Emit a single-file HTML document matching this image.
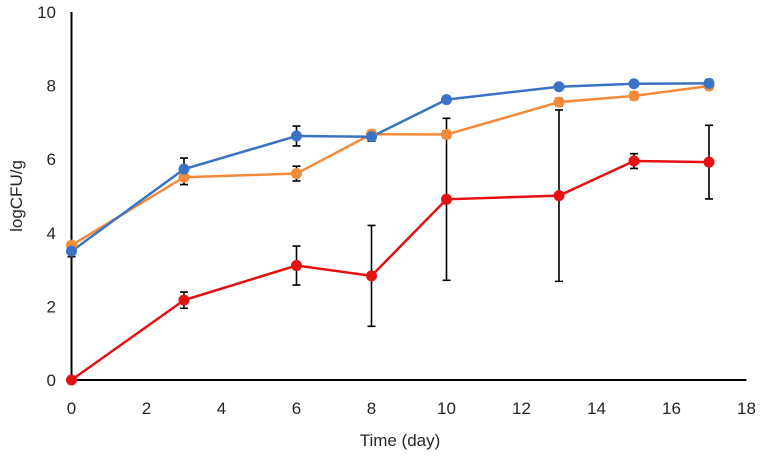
<!DOCTYPE html>
<html><head><meta charset="utf-8"><style>
body{margin:0;background:#fff}
svg text{font-family:"Liberation Sans",sans-serif;fill:#262626}
</style></head><body>
<svg id="chart" width="762" height="456" xmlns="http://www.w3.org/2000/svg"></svg>
<script>
const days=[0,3,6,8,10,13,15,17];
const redVals=[0,2.17,3.11,2.83,4.91,5.01,5.95,5.92];
const redErr=[0,0.22,0.53,1.37,2.2,2.33,0.2,1.0];
const orangeVals=[3.66,5.51,5.61,6.68,6.67,7.55,7.72,7.99];
const orangeErr=[0.08,0.2,0.2,0.1,0.1,0.1,0.1,0.05];
const blueVals=[3.5,5.73,6.63,6.61,7.62,7.97,8.05,8.06];
const blueErr=[0.15,0.3,0.27,0.12,0.05,0.05,0.05,0.1];
const xTicks=[0,2,4,6,8,10,12,14,16,18];
const yTicks=[0,2,4,6,8,10];
const NS="http://www.w3.org/2000/svg";
const svg=document.getElementById('chart');
const X=v=>71.5+v*37.5;
const Y=v=>380-v*36.8;
function el(t,a){const e=document.createElementNS(NS,t);for(const k in a)e.setAttribute(k,a[k]);svg.appendChild(e);return e;}
let ax=el('line',{x1:X(0),y1:Y(10),x2:X(0),y2:Y(0),stroke:'#000','stroke-width':2});


ax=el('line',{x1:X(0),y1:Y(0),x2:X(18),y2:Y(0),stroke:'#000','stroke-width':2});


yTicks.forEach(v=>{const t=el('text',{x:56,y:Y(v)+6,'text-anchor':'end','font-size':17});t.textContent=v;

});
xTicks.forEach(v=>{const t=el('text',{x:X(v),y:414,'text-anchor':'middle','font-size':17});t.textContent=v;

});
let tt=el('text',{x:400,y:446,'text-anchor':'middle','font-size':17});tt.textContent='Time (day)';


tt=el('text',{x:0,y:0,'text-anchor':'middle','font-size':17,transform:'translate(22,196) rotate(-90)'});tt.textContent='logCFU/g';


const S=[[orangeVals,orangeErr,'#f28a3a','orange'],[blueVals,blueErr,'#3a72c4','blue'],[redVals,redErr,'#e51010','red']];
S.forEach(([vals,errs,color,name])=>{
  const pts=days.map((d,i)=>X(d)+','+Y(vals[i])).join(' ');
  const l=el('polyline',{points:pts,fill:'none',stroke:color,'stroke-width':2.5});
  
  
});
S.forEach(([vals,errs,color,name])=>{
  days.forEach((d,i)=>{
    const x=X(d);
    if(errs[i]>0){
      const t=Y(vals[i]+errs[i]),b=Y(vals[i]-errs[i]);
      const e=el('path',{d:`M${x},${t}V${b}M${x-4},${t}H${x+4}M${x-4},${b}H${x+4}`,stroke:'#000','stroke-width':1.6,fill:'none'});
      
      
    }
  });
});
S.forEach(([vals,errs,color,name])=>{
  days.forEach((d,i)=>{
    const c=el('circle',{cx:X(d),cy:Y(vals[i]),r:5.5,fill:color});
    
    
  });
});
</script>
</body></html>
